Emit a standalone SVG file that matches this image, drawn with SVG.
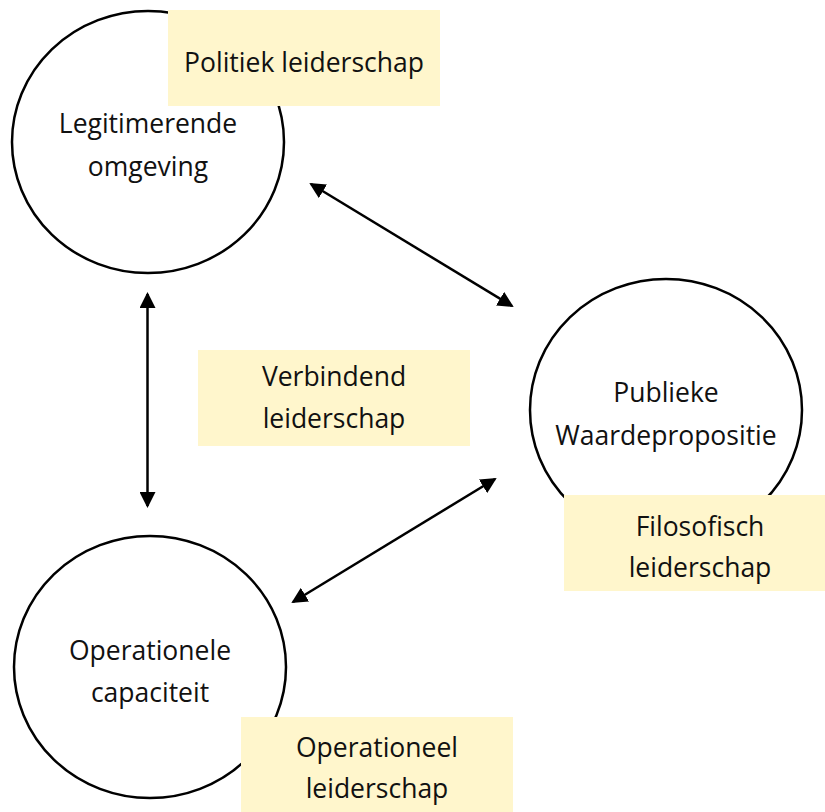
<svg xmlns="http://www.w3.org/2000/svg" width="825" height="812" viewBox="0 0 825 812">
<style>
.node{fill:#ffffff;stroke:#000000;stroke-width:2.5}
.lbl{fill:#fff6cc}
.t{font-family:"Open Sans","Noto Sans",sans-serif;font-size:26.5px;fill:#111111;text-anchor:middle}
.conn{stroke:#000000;stroke-width:2.5;fill:none;marker-start:url(#ah);marker-end:url(#ah)}
</style>
<defs>
<marker id="ah" markerUnits="userSpaceOnUse" markerWidth="16" markerHeight="16" viewBox="0 0 16 16" refX="14" refY="8" orient="auto-start-reverse">
<path d="M0,0 L16,8 L0,16 z" fill="#000000"/>
</marker>
</defs>
<rect width="825" height="812" fill="#ffffff"/>
<g id="legitimerende">
<ellipse class="node" cx="148" cy="142" rx="136" ry="131"/>
<text class="t" x="148" y="133">Legitimerende</text>
<text class="t" x="148" y="176">omgeving</text>
</g>
<g id="publieke">
<ellipse class="node" cx="666" cy="410" rx="136" ry="131"/>
<text class="t" x="666" y="402">Publieke</text>
<text class="t" x="666" y="445">Waardepropositie</text>
</g>
<g id="operationele">
<ellipse class="node" cx="150" cy="667" rx="136" ry="131"/>
<text class="t" x="150" y="660">Operationele</text>
<text class="t" x="150" y="702">capaciteit</text>
</g>
<g id="politiek">
<rect class="lbl" x="168" y="10" width="272" height="96"/>
<text class="t" x="304" y="72">Politiek leiderschap</text>
</g>
<g id="verbindend">
<rect class="lbl" x="198" y="350" width="272" height="96"/>
<text class="t" x="334" y="386">Verbindend</text>
<text class="t" x="334" y="428">leiderschap</text>
</g>
<g id="filosofisch">
<rect class="lbl" x="564" y="495" width="272" height="96"/>
<text class="t" x="700" y="536">Filosofisch</text>
<text class="t" x="700" y="577">leiderschap</text>
</g>
<g id="operationeel">
<rect class="lbl" x="241" y="717" width="272" height="96"/>
<text class="t" x="377" y="757">Operationeel</text>
<text class="t" x="377" y="798">leiderschap</text>
</g>
<g id="connectors">
<line class="conn" x1="311" y1="184" x2="512" y2="306"/>
<line class="conn" x1="147.5" y1="294" x2="147.5" y2="506"/>
<line class="conn" x1="293" y1="602" x2="495" y2="479"/>
</g>
</svg>
